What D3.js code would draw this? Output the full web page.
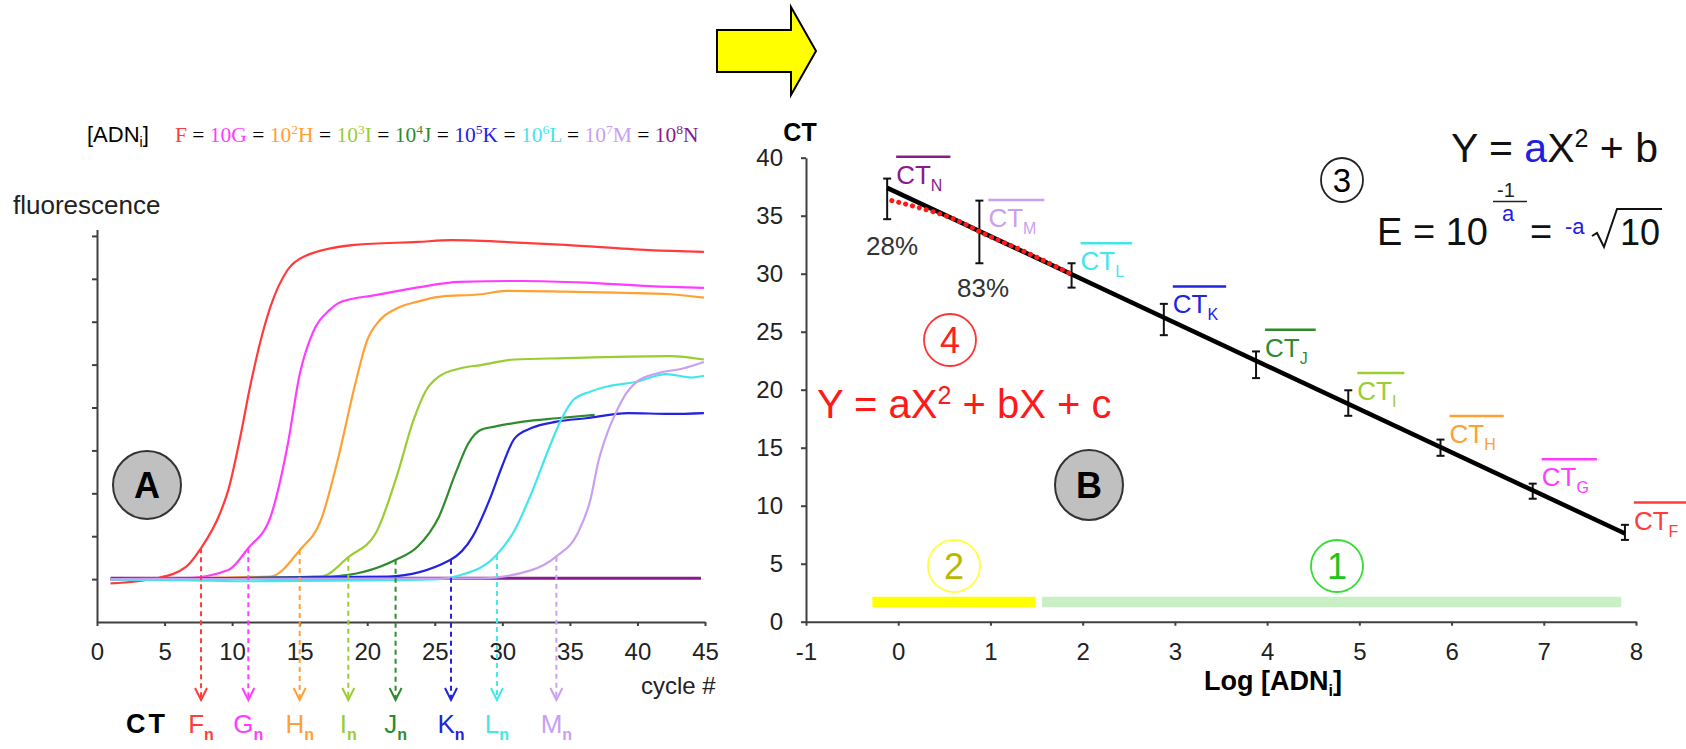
<!doctype html>
<html lang="en">
<head>
<meta charset="utf-8">
<title>qPCR - amplification and standard curve</title>
<script src="https://d3js.org/d3.v7.min.js"></script>
<style>
  body { margin: 0; background: #fff; }
  svg { display: block; font-family: "Liberation Sans", Arial, sans-serif; }
  .axis path, .axis line { stroke: #404040; stroke-width: 2px; }
  .axis text { font-size: 24px; fill: #222; font-family: "Liberation Sans", Arial, sans-serif; }
</style>
</head>
<body>
<div id="chart"></div>
<script>
// series (dilutions F..N)
var seriesNames = ["F", "G", "H", "I", "J", "K", "L", "M", "N"];
var seriesColors = ["#ff3b3b", "#ff3cff", "#ffa033", "#9acd32", "#2e8b2e", "#2323e0", "#44e6ec", "#c9a0f0", "#8b1a8b"];
var dilutionPow = [0, 1, 2, 3, 4, 5, 6, 7, 8];

// panel A : fluorescence vs cycle
var curveF = [[1, 0.9], [4.43, 1.02], [6.61, 1.29], [7.7, 1.72], [9.1, 2.53], [9.72, 3.08], [10.66, 4.4], [11.28, 5.41], [12.84, 7.35], [14.09, 8.2], [15.33, 8.52], [19.07, 8.79], [23.74, 8.86], [26.23, 8.9], [31.53, 8.84], [34.65, 8.79], [40.88, 8.67], [44.92, 8.63]];
var curveG = [[1, 1.0], [6.61, 1.02], [9.72, 1.21], [11.19, 1.72], [12.84, 2.45], [14.09, 4.09], [15.02, 5.8], [15.95, 6.73], [17.2, 7.27], [18.13, 7.47], [20.63, 7.62], [23.74, 7.8], [26.86, 7.93], [31.53, 7.95], [36.2, 7.91], [40.88, 7.83], [44.92, 7.79]];
var curveH = [[1, 1.0], [12.84, 1.06], [15.02, 1.68], [16.58, 2.38], [17.82, 3.78], [19.07, 5.49], [20.0, 6.57], [20.94, 7.04], [22.18, 7.31], [23.74, 7.47], [25.3, 7.58], [28.42, 7.64], [30.29, 7.72], [34.65, 7.7], [42.43, 7.64], [44.92, 7.56]];
var curveI = [[1, 1.0], [16.58, 1.06], [18.63, 1.52], [20.63, 2.07], [22.18, 3.39], [23.43, 4.71], [24.37, 5.41], [25.3, 5.72], [26.86, 5.91], [28.42, 5.99], [30.91, 6.12], [34.65, 6.15], [42.43, 6.2], [44.92, 6.12]];
var curveJ = [[1, 1.0], [17.2, 1.06], [22.12, 1.45], [23.74, 1.76], [25.3, 2.45], [26.54, 3.47], [27.48, 4.16], [28.42, 4.48], [29.35, 4.55], [31.53, 4.67], [34.02, 4.75], [36.83, 4.83]];
var curveK = [[1, 1.0], [21.56, 1.06], [26.17, 1.45], [27.8, 1.99], [29.04, 2.84], [29.97, 3.62], [30.91, 4.28], [32.15, 4.52], [34.02, 4.67], [36.2, 4.75], [39.32, 4.87], [42.43, 4.85], [44.92, 4.87]];
var curveL = [[1, 0.99], [7, 0.97], [11, 0.95], [20, 0.97], [25.3, 1.0], [26.86, 1.09], [29.57, 1.56], [30.91, 2.14], [32.15, 3.0], [33.4, 4.01], [34.34, 4.71], [35.27, 5.18], [36.51, 5.37], [37.76, 5.49], [39.94, 5.6], [42.12, 5.78], [44.0, 5.7], [44.92, 5.74]];
var curveM = [[1, 1.0], [28.42, 1.02], [32.15, 1.21], [33.96, 1.52], [35.58, 2.07], [36.51, 2.84], [37.14, 3.78], [37.76, 4.4], [38.39, 4.87], [39.17, 5.33], [39.94, 5.6], [41.5, 5.8], [43.37, 5.91], [44.92, 6.06]];
var curveN = [[1, 1.02], [44.7, 1.02]];
var curves = [curveF, curveG, curveH, curveI, curveJ, curveK, curveL, curveM, curveN];

// threshold cycles (CT) and where the dashed lines leave the curves
var ctCycle = [7.7, 11.2, 15.0, 18.6, 22.1, 26.2, 29.6, 34.0];
var ctLevel = [1.72, 1.72, 1.68, 1.52, 1.45, 1.45, 1.56, 1.52];
var cycleTicks = [0, 5, 10, 15, 20, 25, 30, 35, 40, 45];

// panel B : mean CT vs log concentration
var ctNames = ["N", "M", "L", "K", "J", "I", "H", "G", "F"];
var logConc = [-0.12, 0.88, 1.88, 2.88, 3.88, 4.88, 5.88, 6.88, 7.88];
var ctMean = [36.45, 33.6, 29.85, 26.05, 22.15, 18.85, 15.0, 11.25, 7.7];
var ctErr = [1.75, 2.7, 1.05, 1.35, 1.15, 1.1, 0.7, 0.65, 0.65];
var fitLine = [[-0.12, 37.4], [7.88, 7.6]];
var polyFit = [[-0.07, 36.3], [0.22, 35.7], [0.61, 34.7], [0.89, 33.6], [1.4, 31.8], [1.88, 29.95]];
var efficiency = ["28%", "83%"];
var rangeBars = [[-0.28, 1.49], [1.56, 7.84]];
var rangeBarY = [1.25, 2.15];
var logTicks = [-1, 0, 1, 2, 3, 4, 5, 6, 7, 8];
var ctTicks = [0, 5, 10, 15, 20, 25, 30, 35, 40];

var svg = d3.select("#chart").append("svg")
    .attr("width", 1686)
    .attr("height", 749);
svg.append("rect").attr("width", 1686).attr("height", 749).attr("fill", "#fff");

function colorOf(n) { return seriesColors[seriesNames.indexOf(n)]; }

// big yellow arrow
svg.append("path")
    .attr("d", "M717,30H791V7L816,51L791,95V72H717Z")
    .attr("fill", "#ffff00").attr("stroke", "#000").attr("stroke-width", 2);

// ---------- panel A ----------
var xL = d3.scaleLinear().domain([0, 45]).range([97, 705]);
var yL = d3.scaleLinear().domain([0, 9.15]).range([622, 229.5]);

svg.append("g").attr("class", "axis")
    .attr("transform", "translate(0,622)")
    .call(d3.axisBottom(xL).tickValues(cycleTicks).tickSize(4).tickSizeOuter(0).tickPadding(17));

svg.append("g").attr("class", "axis")
    .attr("transform", "translate(97,0)")
    .call(d3.axisLeft(yL).tickValues(d3.range(1, 10)).tickFormat("").tickSize(5).tickSizeOuter(0));

// concentration legend
var adn = svg.append("text").attr("x", 87).attr("y", 142).attr("font-size", 22);
adn.append("tspan").text("[ADN");
adn.append("tspan").text("i").attr("font-size", 14).attr("dy", 5);
adn.append("tspan").text("]").attr("dy", -5);

var leg = svg.append("text").attr("x", 175).attr("y", 142).attr("font-size", 21.5)
    .attr("font-family", "Liberation Serif, Times New Roman, serif");
seriesNames.forEach(function(n, i) {
  var p = dilutionPow[i];
  var col = seriesColors[i];
  if (i > 0) leg.append("tspan").text(" = ").attr("fill", "#000");
  if (p >= 1) leg.append("tspan").text("10").attr("fill", col);
  if (p >= 2) {
    leg.append("tspan").text(p).attr("font-size", 13.5).attr("dy", -8).attr("fill", col);
    leg.append("tspan").text(n).attr("dy", 8).attr("fill", col);
  } else {
    leg.append("tspan").text(n).attr("fill", col);
  }
});

svg.append("text").attr("x", 13).attr("y", 214).attr("font-size", 26).attr("fill", "#222").text("fluorescence");
svg.append("text").attr("x", 641).attr("y", 694).attr("font-size", 24).attr("fill", "#222").text("cycle #");

var lineL = d3.line().x(function(d) { return xL(d[0]); }).y(function(d) { return yL(d[1]); }).curve(d3.curveMonotoneX);

// purple baseline first, the rest on top
var order = [8, 0, 1, 2, 3, 4, 5, 6, 7];
svg.append("g").selectAll("path")
  .data(order)
  .enter()
  .append("path")
    .attr("d", function(i) { return lineL(curves[i]); })
    .attr("fill", "none")
    .attr("stroke", function(i) { return seriesColors[i]; })
    .attr("stroke-width", function(i) { return i == 8 ? 3 : 2.2; });

// CT dashed arrows
var tipY = 700;
var ctG = svg.append("g").selectAll("g")
  .data(ctCycle)
  .enter()
  .append("g");
ctG.append("line")
    .attr("x1", function(d) { return xL(d); })
    .attr("x2", function(d) { return xL(d); })
    .attr("y1", function(d, i) { return yL(ctLevel[i]); })
    .attr("y2", tipY)
    .attr("stroke", function(d, i) { return seriesColors[i]; })
    .attr("stroke-width", 2)
    .attr("stroke-dasharray", "5,4");
ctG.append("path")
    .attr("d", function(d) { var x = xL(d); return "M" + (x - 6) + "," + (tipY - 12) + "L" + x + "," + tipY + "L" + (x + 6) + "," + (tipY - 12); })
    .attr("fill", "none")
    .attr("stroke", function(d, i) { return seriesColors[i]; })
    .attr("stroke-width", 2);
ctG.append("text")
    .attr("x", function(d) { return xL(d); })
    .attr("y", 733)
    .attr("text-anchor", "middle")
    .attr("font-size", 26)
    .attr("fill", function(d, i) { return seriesColors[i]; })
    .each(function(d, i) {
      var t = d3.select(this);
      t.append("tspan").text(seriesNames[i]);
      t.append("tspan").text("n").attr("font-size", 16).attr("font-weight", "bold").attr("dy", 7);
    });
svg.append("text").attr("x", 126).attr("y", 733).attr("font-size", 27).attr("font-weight", "bold")
    .attr("letter-spacing", 3).attr("fill", "#000").text("CT");

// A badge
svg.append("ellipse").attr("cx", 147).attr("cy", 485).attr("rx", 34).attr("ry", 34)
    .attr("fill", "#c0c0c0").attr("stroke", "#333").attr("stroke-width", 2);
svg.append("text").attr("x", 147).attr("y", 498).attr("text-anchor", "middle")
    .attr("font-size", 36).attr("font-weight", "bold").text("A");

// ---------- panel B ----------
var xR = d3.scaleLinear().domain([-1, 8]).range([806, 1636]);
var yR = d3.scaleLinear().domain([0, 40]).range([621.7, 157.7]);

svg.append("g").attr("class", "axis")
    .attr("transform", "translate(0,621.7)")
    .call(d3.axisBottom(xR).tickValues(logTicks).tickFormat(function(d) { return String(d); })
      .tickSize(4).tickSizeOuter(0).tickPadding(17));
svg.append("g").attr("class", "axis")
    .attr("transform", "translate(806,0)")
    .call(d3.axisLeft(yR).tickValues(ctTicks).tickSize(5).tickSizeOuter(0).tickPadding(18));

svg.append("text").attr("x", 800).attr("y", 141).attr("text-anchor", "middle")
    .attr("font-size", 25).attr("font-weight", "bold").text("CT");
var xl = svg.append("text").attr("x", 1273).attr("y", 690).attr("text-anchor", "middle")
    .attr("font-size", 27).attr("font-weight", "bold");
xl.append("tspan").text("Log [ADN");
xl.append("tspan").text("i").attr("font-size", 16).attr("dy", 6);
xl.append("tspan").text("]").attr("dy", -6);

// range bars 2 and 1
svg.append("g").selectAll("rect")
  .data(rangeBars)
  .enter()
  .append("rect")
    .attr("x", function(d) { return xR(d[0]); })
    .attr("width", function(d) { return xR(d[1]) - xR(d[0]); })
    .attr("y", yR(rangeBarY[1]))
    .attr("height", yR(rangeBarY[0]) - yR(rangeBarY[1]))
    .attr("fill", function(d, i) { return i == 0 ? "#ffff00" : "#c8f0c4"; });

function badge(cx, cy, label, stroke, fill, size) {
  svg.append("ellipse").attr("cx", cx).attr("cy", cy).attr("rx", 26).attr("ry", 26)
      .attr("fill", "none").attr("stroke", stroke).attr("stroke-width", 1.8);
  svg.append("text").attr("x", cx).attr("y", cy + size * 0.36).attr("text-anchor", "middle")
      .attr("font-size", size).attr("fill", fill).text(label);
}
badge(954, 566, "2", "#ffff40", "#b8b800", 36);
badge(1337, 566, "1", "#33dd33", "#22c422", 36);
badge(950, 340, "4", "#ff3333", "#ff2020", 36);
svg.append("ellipse").attr("cx", 1342).attr("cy", 180).attr("rx", 21).attr("ry", 22)
    .attr("fill", "none").attr("stroke", "#222").attr("stroke-width", 1.8);
svg.append("text").attr("x", 1342).attr("y", 192).attr("text-anchor", "middle").attr("font-size", 33).text("3");

svg.append("ellipse").attr("cx", 1089).attr("cy", 485).attr("rx", 34).attr("ry", 35)
    .attr("fill", "#c0c0c0").attr("stroke", "#333").attr("stroke-width", 2);
svg.append("text").attr("x", 1089).attr("y", 498).attr("text-anchor", "middle")
    .attr("font-size", 36).attr("font-weight", "bold").text("B");

// error bars
var eb = svg.append("g").selectAll("g")
  .data(logConc)
  .enter()
  .append("g")
    .attr("stroke", "#111")
    .attr("stroke-width", 2);
eb.append("line")
    .attr("x1", function(d) { return xR(d); }).attr("x2", function(d) { return xR(d); })
    .attr("y1", function(d, i) { return yR(ctMean[i] + ctErr[i]); })
    .attr("y2", function(d, i) { return yR(ctMean[i] - ctErr[i]); });
[1, -1].forEach(function(s) {
  eb.append("line")
      .attr("x1", function(d) { return xR(d) - 4; }).attr("x2", function(d) { return xR(d) + 4; })
      .attr("y1", function(d, i) { return yR(ctMean[i] + s * ctErr[i]); })
      .attr("y2", function(d, i) { return yR(ctMean[i] + s * ctErr[i]); });
});

var lineR = d3.line().x(function(d) { return xR(d[0]); }).y(function(d) { return yR(d[1]); });
svg.append("path").attr("d", lineR(fitLine)).attr("fill", "none")
    .attr("stroke", "#000").attr("stroke-width", 4.5);
svg.append("path").attr("d", lineR.curve(d3.curveMonotoneX)(polyFit)).attr("fill", "none")
    .attr("stroke", "#ff1a1a").attr("stroke-width", 5).attr("stroke-linecap", "round")
    .attr("stroke-dasharray", "0.1,7");

function fitAt(x) {
  var t = (x - fitLine[0][0]) / (fitLine[1][0] - fitLine[0][0]);
  return fitLine[0][1] + t * (fitLine[1][1] - fitLine[0][1]);
}

// CT labels with overline
ctNames.forEach(function(n, i) {
  var x = xR(logConc[i]) + 9, y = yR(fitAt(logConc[i])) - 4;
  var col = colorOf(n);
  var t = svg.append("text").attr("x", x).attr("y", y).attr("fill", col).attr("font-size", 26);
  t.append("tspan").text("CT");
  t.append("tspan").text(n).attr("font-size", 16).attr("dy", 7);
  var w = t.node().getComputedTextLength();
  svg.append("line").attr("x1", x).attr("x2", x + w + 8)
      .attr("y1", y - 27).attr("y2", y - 27)
      .attr("stroke", col).attr("stroke-width", 2.5);
});

svg.append("text").attr("x", 892).attr("y", 255).attr("text-anchor", "middle")
    .attr("font-size", 26).attr("fill", "#333").text(efficiency[0]);
svg.append("text").attr("x", 983).attr("y", 297).attr("text-anchor", "middle")
    .attr("font-size", 26).attr("fill", "#333").text(efficiency[1]);

// formulas
var f4 = svg.append("text").attr("x", 817).attr("y", 418).attr("font-size", 40).attr("fill", "#ff1a1a");
f4.append("tspan").text("Y = aX");
f4.append("tspan").text("2").attr("font-size", 25).attr("dy", -14);
f4.append("tspan").text(" + bX + c").attr("dy", 14);

var f3 = svg.append("text").attr("x", 1451).attr("y", 162).attr("font-size", 41).attr("fill", "#111");
f3.append("tspan").text("Y = ");
f3.append("tspan").text("a").attr("fill", "#2020e0");
f3.append("tspan").text("X");
f3.append("tspan").text("2").attr("font-size", 25).attr("dy", -15);
f3.append("tspan").text(" + b").attr("dy", 15);

svg.append("text").attr("x", 1377).attr("y", 245).attr("font-size", 38).attr("fill", "#111").text("E = 10");
svg.append("text").attr("x", 1506).attr("y", 197).attr("text-anchor", "middle").attr("font-size", 20).attr("fill", "#222").text("-1");
svg.append("line").attr("x1", 1493).attr("x2", 1527).attr("y1", 201.5).attr("y2", 201.5).attr("stroke", "#222").attr("stroke-width", 1.5);
svg.append("text").attr("x", 1508).attr("y", 221).attr("text-anchor", "middle").attr("font-size", 22).attr("fill", "#2020e0").text("a");
svg.append("text").attr("x", 1530).attr("y", 245).attr("font-size", 38).attr("fill", "#111").text("=");
svg.append("text").attr("x", 1565).attr("y", 234).attr("font-size", 22).attr("fill", "#2020e0").text("-a");
svg.append("path").attr("d", "M1592,236L1597,233L1604,247L1617,209H1662").attr("fill", "none").attr("stroke", "#111").attr("stroke-width", 2);
svg.append("text").attr("x", 1620).attr("y", 245).attr("font-size", 36).attr("fill", "#111").text("10");
</script>
</body>
</html>
